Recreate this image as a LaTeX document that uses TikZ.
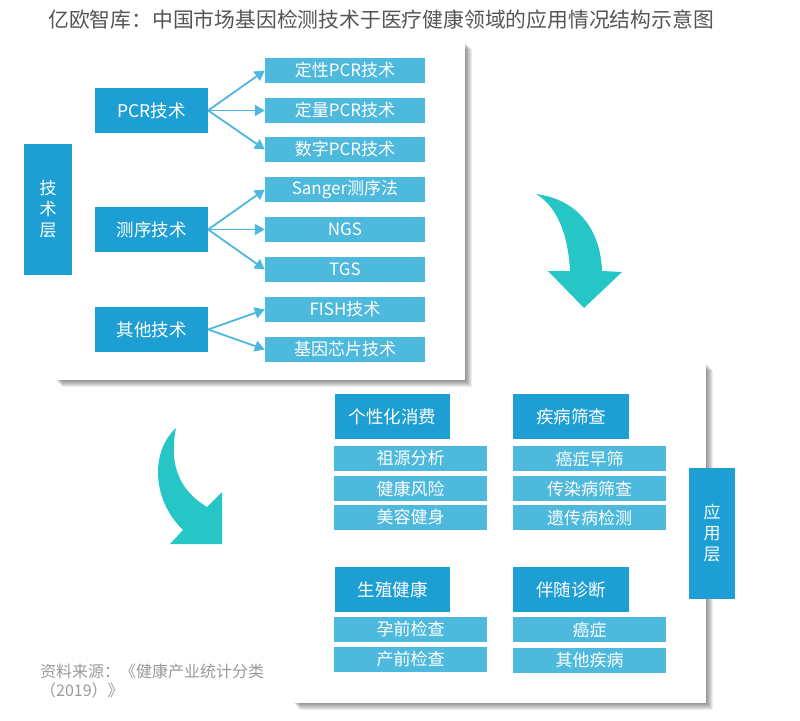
\documentclass[tikz,border=0pt]{standalone}
\usepackage{fontspec}
\setmainfont{Noto Sans CJK SC}
\usetikzlibrary{arrows.meta,positioning}
\definecolor{dblue}{HTML}{1E9FD3}
\definecolor{lblue}{HTML}{4DB9DD}
\definecolor{arr}{HTML}{4DB8DE}
\definecolor{teal2}{HTML}{26C6C6}
\definecolor{ttl}{HTML}{555555}
\definecolor{src}{HTML}{999999}
\tikzset{
  shadowlayer/.style={fill=black, opacity=0.07, draw=none},
  panel/.style={fill=white, draw=none},
  dbox/.style={fill=dblue, text=white, inner sep=0pt, font=\fontsize{17.5}{20}\selectfont},
  lbox/.style={fill=lblue, text=white, inner sep=0pt, minimum height=25, font=\fontsize{17}{19}\selectfont},
  conn/.style={draw=arr, line width=1.8pt, -{Triangle[length=10pt,width=11pt]}},
  bigarrow/.style={fill=teal2, draw=none}
}
\begin{document}
\begin{tikzpicture}[x=1pt,y=-1pt]
\useasboundingbox (0,0) rectangle (800,720);
% title
\node[anchor=west, text=ttl, inner sep=0pt, font=\fontsize{20.8}{23}\selectfont] (title) at (48,20) {亿欧智库：中国市场基因检测技术于医疗健康领域的应用情况结构示意图};

% bottom panel first
\foreach \s in {1,...,7} {\path[shadowlayer] (293+\s,363+\s) rectangle (706+\s,703+\s);}
\path[panel] (293,363) rectangle (706,703);
% top panel
\foreach \s in {1,...,7} {\path[shadowlayer] (55+\s,42+\s) rectangle (465+\s,380+\s);}
\path[panel] (55,42) rectangle (465,380);

% technology layer
\node[dbox, minimum width=48, minimum height=131, align=center, font=\fontsize{17}{21}\selectfont] (tech) at (48,209.5) {技\\术\\层};
\node[dbox, minimum width=113, minimum height=45] (pcr) at (151.5,110.5) {PCR技术};
\node[dbox, minimum width=113, minimum height=45] (seq) at (151.5,229.5) {测序技术};
\node[dbox, minimum width=113, minimum height=45] (oth) at (151.5,329.5) {其他技术};

\node[lbox, minimum width=160] (q1) at (345,70.5) {定性PCR技术};
\node[lbox, minimum width=160] (q2) at (345,110.5) {定量PCR技术};
\node[lbox, minimum width=160] (q3) at (345,149.5) {数字PCR技术};
\node[lbox, minimum width=160] (s1) at (345,189.5) {Sanger测序法};
\node[lbox, minimum width=160] (s2) at (345,229.5) {NGS};
\node[lbox, minimum width=160] (s3) at (345,269.5) {TGS};
\node[lbox, minimum width=160] (o1) at (345,309.5) {FISH技术};
\node[lbox, minimum width=160] (o2) at (345,349.5) {基因芯片技术};

\draw[conn] (pcr.east) -- (q1.west);
\draw[conn] (pcr.east) -- (q2.west);
\draw[conn] (pcr.east) -- (q3.west);
\draw[conn] (seq.east) -- (s1.west);
\draw[conn] (seq.east) -- (s2.west);
\draw[conn] (seq.east) -- (s3.west);
\draw[conn] (oth.east) -- (o1.west);
\draw[conn] (oth.east) -- (o2.west);

% application layer
\node[dbox, minimum width=46, minimum height=131, align=center, font=\fontsize{17}{21}\selectfont] (app) at (712,533.5) {应\\用\\层};
\node[dbox, minimum width=115, minimum height=45] (c1) at (392.5,416.5) {个性化消费};
\node[dbox, minimum width=116, minimum height=45] (c2) at (571,416.5) {疾病筛查};
\node[dbox, minimum width=115, minimum height=45] (c3) at (392.5,589.5) {生殖健康};
\node[dbox, minimum width=116, minimum height=45] (c4) at (571,589.5) {伴随诊断};

\node[lbox, minimum width=153] (a1) at (410.5,458.5) {祖源分析};
\node[lbox, minimum width=153] (a2) at (410.5,488.5) {健康风险};
\node[lbox, minimum width=153] (a3) at (410.5,517.5) {美容健身};
\node[lbox, minimum width=153] (b1) at (589.5,458.5) {癌症早筛};
\node[lbox, minimum width=153] (b2) at (589.5,488.5) {传染病筛查};
\node[lbox, minimum width=153] (b3) at (589.5,517.5) {遗传病检测};
\node[lbox, minimum width=153] (a4) at (410.5,629.5) {孕前检查};
\node[lbox, minimum width=153] (a5) at (410.5,659.5) {产前检查};
\node[lbox, minimum width=153] (b4) at (589.5,629.5) {癌症};
\node[lbox, minimum width=153] (b5) at (589.5,660.5) {其他疾病};

% big curved arrows
\path[bigarrow] (536,194) .. controls (582,200) and (601,235) .. (602,271)
  -- (622,272) -- (584,308) -- (548,271) -- (570,271)
  .. controls (568,232) and (556,206) .. (536,194) -- cycle;
\path[bigarrow] (176,428) .. controls (168,468) and (182,492) .. (207,507)
  -- (222,492) -- (222,544) -- (170,544) -- (183,530)
  .. controls (152,500) and (150,452) .. (176,428) -- cycle;

% source
\node[anchor=north west, text=src, inner sep=0pt, align=left, font=\fontsize{16}{19}\selectfont] (source) at (40,664) {资料来源：《健康产业统计分类\\（2019）》};
\end{tikzpicture}
\end{document}
